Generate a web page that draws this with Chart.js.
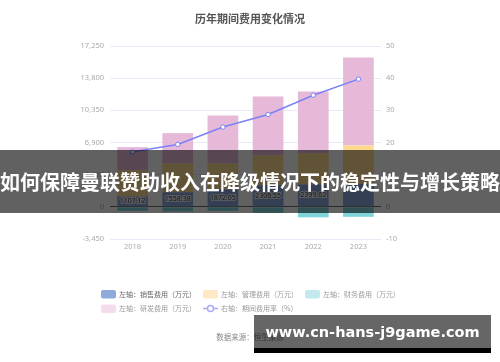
<!DOCTYPE html>
<html>
<head>
<meta charset="utf-8">
<script src="https://cdn.jsdelivr.net/npm/chart.js@4.4.1/dist/chart.umd.min.js"></script>
<style>
  html, body { margin:0; padding:0; background:#fff; }
  #wrap { position:relative; width:500px; height:362px; overflow:hidden; }
  #c { position:absolute; left:0; top:0; }
  #banner { position:absolute; left:0; top:150px; width:500px; height:63px; background:rgba(0,0,0,0.62);
    color:#fff; font-family:"Noto Sans CJK SC", sans-serif; font-weight:bold; font-size:20px;
    display:flex; align-items:center; justify-content:center; white-space:nowrap; letter-spacing:0; }
  #wm { position:absolute; left:254px; top:315px; width:237px; height:33px; background:rgba(0,0,0,0.6);
    border-bottom:5px solid #000; color:#fff; font-family:"DejaVu Sans", sans-serif; font-weight:bold; font-size:14.5px;
    display:flex; align-items:center; justify-content:center; white-space:nowrap; }
</style>
</head>
<body>
<div id="wrap">
  <canvas id="c" width="500" height="362"></canvas>
  <div id="banner">如何保障曼联赞助收入在降级情况下的稳定性与增长策略</div>
  <div id="wm">www.cn-hans-j9game.com</div>
</div>
<script>
const titleText = '历年期间费用变化情况';
const sourceText = '数据来源：恒生聚源';
const years = ['2018', '2019', '2020', '2021', '2022', '2023'];
const salesExpense = [1107.12, 1558.38, 1872.05, 2306.55, 2399.62, 2450];
const mgmtExpense = [2810, 3080, 2765, 3215, 3370, 4140];
const financeExpense = [-430, -500, -430, -640, -1130, -1070];
const rdExpense = [2490, 3270, 5160, 6307, 6590, 9434];
const expenseRate = [17.1, 19.4, 24.8, 28.7, 34.7, 39.7];
const leftTicks = [-3450, 0, 3450, 6900, 10350, 13800, 17250];
const rightTicks = [-10, 0, 10, 20, 30, 40, 50];
const seriesNames = ['左轴：销售费用（万元）', '左轴：管理费用（万元）', '左轴：财务费用（万元）', '左轴：研发费用（万元）', '右轴：期间费用率（%）'];
// labels shown on the sales segments (the 2023 one is not visible in the reference)
const salesLabelShown = [true, true, true, true, true, false];

const barColors = ['#8aa7dc', '#ffd98e', '#7fd5d9', '#e6b9d9'];
const legendColors = ['#8eaadc', '#ffe8c3', '#c2eaec', '#f5dcec'];
const lineColor = '#7c80f6';
const legendLineColor = '#a9abf6';

const fmt = v => v.toLocaleString('en-US');

const labelPlugin = {
  id: 'salesLabels',
  afterDatasetsDraw(chart) {
    const meta = chart.getDatasetMeta(0);
    const ctx = chart.ctx;
    ctx.save();
    ctx.font = '7px "Noto Sans", sans-serif';
    ctx.textAlign = 'center';
    ctx.textBaseline = 'middle';
    meta.data.forEach((bar, i) => {
      if (!salesLabelShown[i]) return;
      const y = (bar.y + bar.base) / 2;
      const t = salesExpense[i].toFixed(2);
      ctx.lineWidth = 2;
      ctx.strokeStyle = 'rgba(255,255,255,0.85)';
      ctx.strokeText(t, bar.x, y);
      ctx.fillStyle = '#333';
      ctx.fillText(t, bar.x, y);
    });
    ctx.restore();
  }
};

const legendPlugin = {
  id: 'customLegend',
  afterDraw(chart) {
    const ctx = chart.ctx;
    const rows = [[0, 1, 2], [3, 4]];
    const rowY = [294, 308.5];
    ctx.save();
    ctx.font = '7px "Noto Sans CJK SC", sans-serif';
    ctx.textBaseline = 'middle';
    ctx.textAlign = 'left';
    rows.forEach((row, ri) => {
      let x = 101;
      const y = rowY[ri];
      row.forEach(i => {
        if (i < 4) {
          ctx.fillStyle = legendColors[i];
          ctx.beginPath();
          if (ctx.roundRect) ctx.roundRect(x, y - 4, 15, 8.5, 2); else ctx.rect(x, y - 4, 15, 8.5);
          ctx.fill();
        } else {
          ctx.strokeStyle = legendLineColor;
          ctx.lineWidth = 1.5;
          ctx.beginPath(); ctx.moveTo(x, y); ctx.lineTo(x + 15, y); ctx.stroke();
          ctx.beginPath(); ctx.arc(x + 7.5, y, 3, 0, Math.PI * 2);
          ctx.fillStyle = '#fff'; ctx.fill(); ctx.stroke();
        }
        ctx.fillStyle = i === 0 ? '#666' : '#9a9a9a';
        const t = seriesNames[i];
        ctx.fillText(t, x + 18, y);
        x += 18 + ctx.measureText(t).width + 7;
      });
    });
    ctx.font = '7.5px "Noto Sans CJK SC", sans-serif';
    ctx.textAlign = 'center';
    ctx.fillStyle = '#888';
    ctx.fillText(sourceText, 250, 337);
    ctx.restore();
  }
};

new Chart(document.getElementById('c'), {
  data: {
    labels: years,
    datasets: [
      { type: 'bar', label: seriesNames[0], data: salesExpense, backgroundColor: barColors[0], stack: 's', yAxisID: 'y', order: 1 },
      { type: 'bar', label: seriesNames[1], data: mgmtExpense, backgroundColor: barColors[1], stack: 's', yAxisID: 'y', order: 1 },
      { type: 'bar', label: seriesNames[2], data: financeExpense, backgroundColor: barColors[2], stack: 's', yAxisID: 'y', order: 1 },
      { type: 'bar', label: seriesNames[3], data: rdExpense, backgroundColor: barColors[3], stack: 's', yAxisID: 'y', order: 1 },
      { type: 'line', label: seriesNames[4], data: expenseRate, borderColor: lineColor, borderWidth: 1.5,
        pointRadius: 2.2, pointBackgroundColor: '#fff', pointBorderColor: lineColor, pointBorderWidth: 1,
        tension: 0, yAxisID: 'y1', order: 0 }
    ]
  },
  options: {
    responsive: false,
    animation: false,
    devicePixelRatio: 1,
    datasets: { bar: { categoryPercentage: 1, barPercentage: 0.68, borderWidth: 0 } },
    layout: { padding: { top: 0, left: 0, right: 0, bottom: 109 } },
    plugins: {
      legend: { display: false },
      tooltip: { enabled: false },
      title: {
        display: true, text: titleText, color: '#555',
        font: { family: '"Noto Sans CJK SC", sans-serif', size: 11, weight: 'bold' },
        padding: { top: 12.4, bottom: 20.4 }
      }
    },
    scales: {
      x: {
        stacked: true,
        grid: { display: false, drawTicks: false },
        border: { display: false },
        ticks: { color: '#aaa', font: { family: '"Noto Sans", sans-serif', size: 7.5 }, padding: 3 },
        afterFit(s) { s.height = 14; }
      },
      y: {
        stacked: true, position: 'left', min: leftTicks[0], max: leftTicks[leftTicks.length - 1],
        afterBuildTicks(s) { s.ticks = leftTicks.map(v => ({ value: v })); },
        grid: { drawTicks: false, lineWidth: 1, color: c => (c.tick && c.tick.value === 0) ? '#6e7079' : '#e9eaf5' },
        border: { display: false },
        ticks: { color: '#aaa', font: { family: '"Noto Sans", sans-serif', size: 7.5 }, padding: 6, callback: v => fmt(v) },
        afterFit(s) { s.width = 110; }
      },
      y1: {
        position: 'right', min: rightTicks[0], max: rightTicks[rightTicks.length - 1],
        afterBuildTicks(s) { s.ticks = rightTicks.map(v => ({ value: v })); },
        grid: { display: false, drawTicks: false },
        border: { display: false },
        ticks: { color: '#aaa', font: { family: '"Noto Sans", sans-serif', size: 7.5 }, padding: 5 },
        afterFit(s) { s.width = 119; }
      }
    }
  },
  plugins: [labelPlugin, legendPlugin]
});
</script>
</body>
</html>
